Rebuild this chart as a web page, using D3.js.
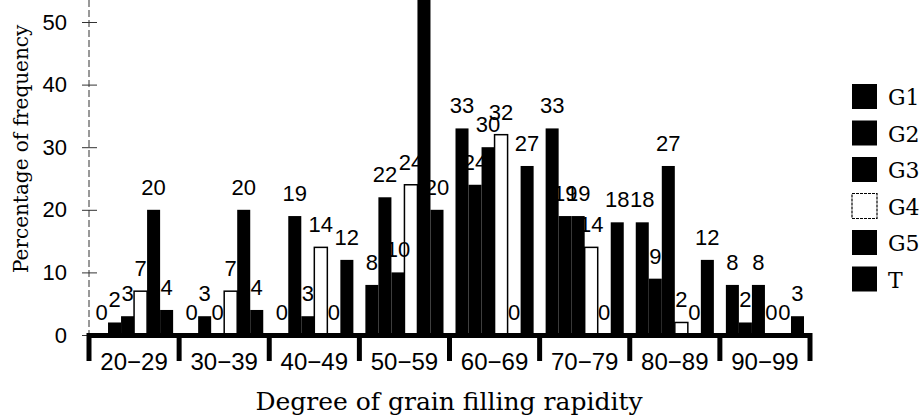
<!DOCTYPE html>
<html>
<head>
<meta charset="utf-8">
<script src="https://cdn.jsdelivr.net/npm/d3@7"></script>
<style>
  body { margin: 0; background: #fff; }
  svg { display: block; }
</style>
</head>
<body>
<script>
var categories = ["20\u221229", "30\u221239", "40\u221249", "50\u221259", "60\u221269", "70\u221279", "80\u221289", "90\u221299"];
var series = ["G1", "G2", "G3", "G4", "G5", "T"];

// percentage of frequency, one array per series (each sums to 100)
var g1 = [0, 0, 0, 8, 33, 33, 18, 8];
var g2 = [2, 3, 19, 22, 24, 19, 9, 2];
var g3 = [3, 0, 3, 10, 30, 19, 27, 8];
var g4 = [7, 7, 14, 24, 32, 14, 2, 0];
var g5 = [20, 20, 0, 60, 0, 0, 0, 0];
var t  = [4, 4, 12, 20, 27, 18, 12, 3];

var yTicks = [0, 10, 20, 30, 40, 50];
var values = [g1, g2, g3, g4, g5, t];

var fills = {G1: "#000", G2: "#000", G3: "#000", G4: "#fff", G5: "#000", T: "#000"};

var width = 921, height = 419;
var left = 89, right = 810, base = 335;

var svg = d3.select("body").append("svg")
  .attr("width", width)
  .attr("height", height);

var x0 = d3.scaleBand().domain(categories).range([left, right]);
var x1 = d3.scaleBand().domain(series).range([6, x0.bandwidth() - 6]);
var y = d3.scaleLinear().domain([0, 50]).range([base, 22]);

var rows = [];
categories.forEach(function (c, i) {
  series.forEach(function (s, j) {
    rows.push({cat: c, ser: s, val: values[j][i]});
  });
});

// y axis: dashed line with small cross ticks
svg.append("line")
  .attr("x1", left).attr("x2", left)
  .attr("y1", 0).attr("y2", base)
  .attr("stroke", "#333")
  .attr("stroke-width", 1)
  .attr("stroke-dasharray", "7,3");

var yAxis = d3.axisLeft(y)
  .tickValues(yTicks)
  .tickSize(7)
  .tickPadding(15)
  .tickFormat(d3.format("d"));

var yg = svg.append("g")
  .attr("transform", "translate(" + left + ",0)")
  .call(yAxis);
yg.select(".domain").remove();
yg.selectAll(".tick line")
  .attr("x1", 8)
  .attr("stroke", "#333");
yg.selectAll(".tick text")
  .attr("font-family", "Liberation Sans, Arial, sans-serif")
  .attr("font-size", 22)
  .attr("fill", "#000");

// bars
svg.append("g").selectAll("rect")
  .data(rows)
  .enter().append("rect")
  .attr("x", function (d) { return x0(d.cat) + x1(d.ser); })
  .attr("y", function (d) { return y(d.val); })
  .attr("width", x1.bandwidth())
  .attr("height", function (d) { return base - y(d.val); })
  .attr("fill", function (d) { return fills[d.ser]; })
  .attr("stroke", "#000")
  .attr("stroke-width", function (d) { return d.ser === "G4" ? 1.5 : 0; });

// value labels (the one above the clipped bar falls outside the picture, as in the original)
svg.append("g").selectAll("text")
  .data(rows.filter(function (d) { return y(d.val) - 15 > 15; }))
  .enter().append("text")
  .attr("x", function (d) { return x0(d.cat) + x1(d.ser) + x1.bandwidth() / 2; })
  .attr("y", function (d) { return y(d.val) - 15; })
  .attr("text-anchor", "middle")
  .attr("font-family", "Liberation Sans, Arial, sans-serif")
  .attr("font-size", 22)
  .text(function (d) { return d.val; });

// category axis: thick baseline with heavy ticks
var xAxis = d3.axisBottom(x0).tickSize(0).tickPadding(18);
var xg = svg.append("g")
  .attr("transform", "translate(0," + base + ")")
  .call(xAxis);
xg.select(".domain")
  .attr("stroke", "#000")
  .attr("stroke-width", 5);
xg.selectAll(".tick text")
  .attr("font-family", "Liberation Sans, Arial, sans-serif")
  .attr("font-size", 24)
  .attr("fill", "#000");

var bounds = categories.map(function (c) { return x0(c); }).concat([right]);
svg.append("g").selectAll("line")
  .data(bounds)
  .enter().append("line")
  .attr("x1", function (d) { return d; })
  .attr("x2", function (d) { return d; })
  .attr("y1", base - 2)
  .attr("y2", base + 26)
  .attr("stroke", "#000")
  .attr("stroke-width", 5);

// axis titles
svg.append("text")
  .attr("x", 449)
  .attr("y", 410)
  .attr("text-anchor", "middle")
  .attr("font-family", "DejaVu Serif, serif")
  .attr("font-size", 25)
  .text("Degree of grain filling rapidity");

svg.append("text")
  .attr("transform", "translate(28,273) rotate(-90)")
  .attr("text-anchor", "start")
  .attr("font-family", "DejaVu Serif, serif")
  .attr("font-size", 20)
  .text("Percentage of frequency");

// legend
var legend = svg.append("g").selectAll("g")
  .data(series)
  .enter().append("g")
  .attr("transform", function (d, i) { return "translate(852," + (84 + i * 36.5) + ")"; });

legend.append("rect")
  .attr("width", 25)
  .attr("height", 25)
  .attr("fill", function (d) { return fills[d]; })
  .attr("stroke", "#000")
  .attr("stroke-width", function (d) { return d === "G4" ? 1.2 : 0; })
  .attr("stroke-dasharray", function (d) { return d === "G4" ? "3,1" : null; });

legend.append("text")
  .attr("x", 36)
  .attr("y", 21)
  .attr("font-family", "DejaVu Serif, serif")
  .attr("font-size", 22)
  .text(function (d) { return d; });
</script>
</body>
</html>
